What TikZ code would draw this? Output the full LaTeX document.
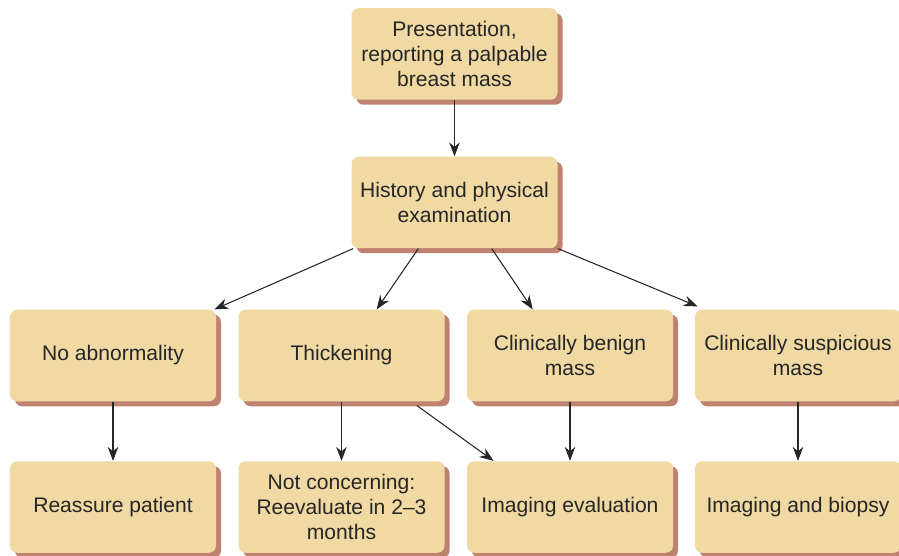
\documentclass[tikz,border=0pt]{standalone}
\usepackage{fontspec}
\setmainfont{Liberation Sans}
\usetikzlibrary{calc}
\usetikzlibrary{arrows.meta}
\usetikzlibrary{shadows}

\definecolor{boxfill}{HTML}{F1D9A4}
\definecolor{boxshadow}{HTML}{C08270}

\begin{document}
\begin{tikzpicture}[scale=1,
    stepbox/.style={fill=boxfill, rounded corners=4pt, minimum width=4.12cm, minimum height=1.83cm,
        align=center, inner sep=0pt, font=\fontsize{12}{14.2}\selectfont\color{black!85},
        general shadow={fill=boxshadow, shadow xshift=0.1cm, shadow yshift=-0.1cm}},
    flow/.style={-{Stealth[length=8pt, width=6pt]}, line width=0.6pt, black!85}]
    \useasboundingbox (0, 0) rectangle (17.98, -11.12);

    \node [stepbox] (present) at (9.09, -1.08) {Presentation,\\reporting a palpable\\breast mass};
    \node [stepbox] (history) at (9.09, -4.05) {History and physical\\examination};

    \node [stepbox] (noabn) at (2.26, -7.11) {No abnormality};
    \node [stepbox] (thick) at (6.83, -7.11) {Thickening};
    \node [stepbox] (benign) at (11.40, -7.11) {Clinically benign\\mass};
    \node [stepbox] (suspic) at (15.96, -7.11) {Clinically suspicious\\mass};

    \node [stepbox] (reassure) at (2.26, -10.14) {Reassure patient};
    \node [stepbox] (reeval) at (6.83, -10.14) {Not concerning:\\Reevaluate in 2--3\\months};
    \node [stepbox] (imaging) at (11.40, -10.14) {Imaging evaluation};
    \node [stepbox] (biopsy) at (15.96, -10.14) {Imaging and biopsy};

    \coordinate (h1) at ($(history.south west)!0.01!(history.south east)$);
    \coordinate (h2) at ($(history.south west)!0.325!(history.south east)$);
    \coordinate (h3) at ($(history.south west)!0.68!(history.south east)$);
    \coordinate (h4) at ($(history.south west)!1!(history.south east)$);
    \coordinate (t1) at ($(thick.north west)!0.67!(thick.north east)$);
    \coordinate (b1) at ($(benign.north west)!0.32!(benign.north east)$);
    \coordinate (t2) at ($(thick.south west)!0.865!(thick.south east) + (0, -0.08)$);
    \coordinate (i1) at ($(imaging.north west)!0.13!(imaging.north east)$);

    \draw [flow] (present) -- (history);
    \draw [flow] (h1) -- ($(noabn.north east) + (-0.04, 0)$);
    \draw [flow] (h2) -- (t1);
    \draw [flow] (h3) -- (b1);
    \draw [flow] (h4) -- ($(suspic.north west) + (0.06, 0.06)$);

    \draw [flow] (noabn) -- (reassure);
    \draw [flow] (thick) -- (reeval);
    \draw [flow] (t2) -- (i1);
    \draw [flow] (benign) -- (imaging);
    \draw [flow] (suspic) -- (biopsy);
\end{tikzpicture}
\end{document}
